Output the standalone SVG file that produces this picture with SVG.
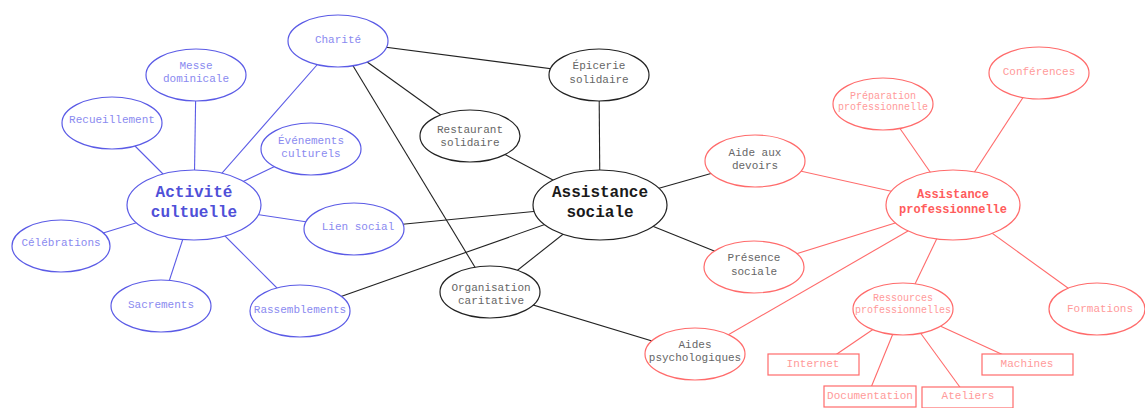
<svg xmlns="http://www.w3.org/2000/svg" width="1145" height="408" viewBox="0 0 1145 408">
<style>
text{font-family:"Liberation Mono","DejaVu Sans Mono",monospace;text-anchor:middle;dominant-baseline:central;font-size:11px}
.b ellipse{fill:#fff;stroke:#5b5be6;stroke-width:1.2}
.b text{fill:#8a8af0}
.b text.t{fill:#5050d8;font-weight:bold;font-size:16px}
.k ellipse{fill:#fff;stroke:#222;stroke-width:1.2}
.k text{fill:#666}
.k text.t{fill:#1a1a1a;font-weight:bold;font-size:16px}
.r ellipse,.r rect{fill:#fff;stroke:#ff6b6b;stroke-width:1.2}
.r text{fill:#ff9a9a}
.r text.s{font-size:10px}
.r text.t{fill:#ff5c5c;font-weight:bold;font-size:12px}
.eb{stroke:#5b5be6;stroke-width:1.1}
.ek{stroke:#222;stroke-width:1.1}
.er{stroke:#ff6b6b;stroke-width:1.1}
</style>
<g id="connectors">
<line class="eb" x1="194" y1="205" x2="112" y2="123"/>
<line class="eb" x1="194" y1="205" x2="196" y2="75"/>
<line class="eb" x1="194" y1="205" x2="338" y2="41"/>
<line class="eb" x1="194" y1="205" x2="311" y2="149"/>
<line class="eb" x1="194" y1="205" x2="354" y2="229"/>
<line class="eb" x1="194" y1="205" x2="61" y2="246"/>
<line class="eb" x1="194" y1="205" x2="161" y2="306"/>
<line class="eb" x1="194" y1="205" x2="300" y2="311"/>
<line class="ek" x1="338" y1="41" x2="599" y2="75"/>
<line class="ek" x1="338" y1="41" x2="470" y2="136"/>
<line class="ek" x1="338" y1="41" x2="490" y2="292"/>
<line class="ek" x1="470" y1="136" x2="600" y2="205"/>
<line class="ek" x1="599" y1="75" x2="600" y2="205"/>
<line class="ek" x1="600" y1="205" x2="755" y2="161"/>
<line class="ek" x1="600" y1="205" x2="354" y2="229"/>
<line class="ek" x1="600" y1="205" x2="300" y2="311"/>
<line class="ek" x1="600" y1="205" x2="490" y2="292"/>
<line class="ek" x1="600" y1="205" x2="754" y2="267"/>
<line class="ek" x1="490" y1="292" x2="695" y2="354"/>
<line class="er" x1="755" y1="161" x2="953" y2="205"/>
<line class="er" x1="754" y1="267" x2="953" y2="205"/>
<line class="er" x1="695" y1="354" x2="953" y2="205"/>
<line class="er" x1="883" y1="104" x2="953" y2="205"/>
<line class="er" x1="1039" y1="73" x2="953" y2="205"/>
<line class="er" x1="953" y1="205" x2="903" y2="309"/>
<line class="er" x1="953" y1="205" x2="1097" y2="309"/>
<line class="er" x1="903" y1="309" x2="831" y2="358"/>
<line class="er" x1="903" y1="309" x2="870" y2="390"/>
<line class="er" x1="903" y1="309" x2="962" y2="390"/>
<line class="er" x1="903" y1="309" x2="1010" y2="358"/>
</g>
<g id="charite" class="b"><ellipse cx="338" cy="41" rx="50" ry="26"/><text x="338" y="40">Charité</text></g>
<g id="messe" class="b"><ellipse cx="196" cy="75" rx="50" ry="26"/><text x="196" y="66">Messe</text><text x="196" y="79">dominicale</text></g>
<g id="recueillement" class="b"><ellipse cx="112" cy="123" rx="50" ry="26"/><text x="112" y="120">Recueillement</text></g>
<g id="evenements" class="b"><ellipse cx="311" cy="149" rx="50" ry="26"/><text x="311" y="141">Événements</text><text x="311" y="154">culturels</text></g>
<g id="activite" class="b"><ellipse cx="194" cy="205" rx="67" ry="35"/><text class="t" x="194" y="193">Activité</text><text class="t" x="194" y="213">cultuelle</text></g>
<g id="celebrations" class="b"><ellipse cx="61" cy="246" rx="49" ry="26"/><text x="61" y="243">Célébrations</text></g>
<g id="sacrements" class="b"><ellipse cx="161" cy="306" rx="50" ry="26"/><text x="161" y="305">Sacrements</text></g>
<g id="rassemblements" class="b"><ellipse cx="300" cy="311" rx="50" ry="26"/><text x="300" y="310">Rassemblements</text></g>
<g id="lien-social" class="b"><ellipse cx="354" cy="229" rx="50" ry="26"/><text x="358" y="227">Lien social</text></g>
<g id="epicerie" class="k"><ellipse cx="599" cy="75" rx="50" ry="26"/><text x="599" y="66">Épicerie</text><text x="599" y="80">solidaire</text></g>
<g id="restaurant" class="k"><ellipse cx="470" cy="136" rx="50" ry="26"/><text x="470" y="130">Restaurant</text><text x="470" y="143">solidaire</text></g>
<g id="assistance-sociale" class="k"><ellipse cx="600" cy="205" rx="67" ry="35"/><text class="t" x="600" y="193">Assistance</text><text class="t" x="600" y="213">sociale</text></g>
<g id="organisation" class="k"><ellipse cx="490" cy="292" rx="50" ry="26"/><text x="491" y="288">Organisation</text><text x="491" y="301">caritative</text></g>
<g id="aides-psy" class="r"><ellipse cx="695" cy="354" rx="50" ry="26"/><text x="695" y="345" style="fill:#666">Aides</text><text x="695" y="358" style="fill:#666">psychologiques</text></g>
<g id="aide-devoirs" class="r"><ellipse cx="755" cy="161" rx="50" ry="26"/><text x="755" y="153" style="fill:#666">Aide aux</text><text x="755" y="166" style="fill:#666">devoirs</text></g>
<g id="presence" class="r"><ellipse cx="754" cy="267" rx="50" ry="26"/><text x="754" y="258" style="fill:#666">Présence</text><text x="754" y="272" style="fill:#666">sociale</text></g>
<g id="preparation" class="r"><ellipse cx="883" cy="104" rx="50" ry="26"/><text class="s" x="883" y="96">Préparation</text><text class="s" x="883" y="107">professionnelle</text></g>
<g id="conferences" class="r"><ellipse cx="1039" cy="73" rx="50" ry="26"/><text x="1039" y="72">Conférences</text></g>
<g id="assistance-pro" class="r"><ellipse cx="953" cy="205" rx="67" ry="35"/><text class="t" x="953" y="195">Assistance</text><text class="t" x="953" y="210">professionnelle</text></g>
<g id="ressources" class="r"><ellipse cx="903" cy="309" rx="50" ry="26"/><text class="s" x="903" y="298">Ressources</text><text class="s" x="903" y="310">professionnelles</text></g>
<g id="formations" class="r"><ellipse cx="1097" cy="309" rx="48" ry="26"/><text x="1100" y="309">Formations</text></g>
<g id="internet" class="r"><rect x="768" y="354" width="91" height="21"/><text x="813" y="364">Internet</text></g>
<g id="machines" class="r"><rect x="982" y="354" width="91" height="21"/><text x="1027" y="364">Machines</text></g>
<g id="documentation" class="r"><rect x="824" y="386" width="92" height="21"/><text x="870" y="396">Documentation</text></g>
<g id="ateliers" class="r"><rect x="922" y="387" width="91" height="21"/><text x="968" y="396">Ateliers</text></g>
</svg>
